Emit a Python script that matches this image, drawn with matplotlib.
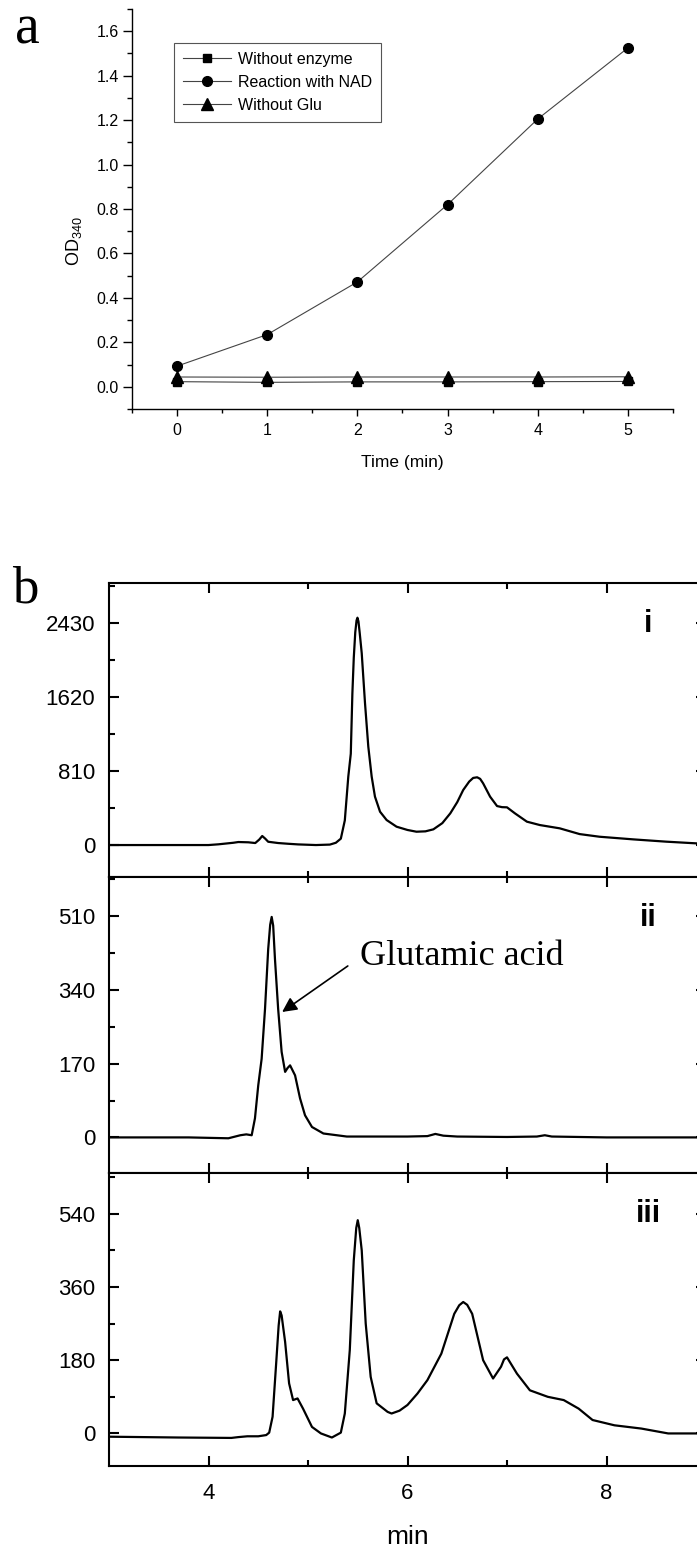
import matplotlib
matplotlib.use("Agg")
import matplotlib.pyplot as plt
from matplotlib.ticker import MultipleLocator, FixedLocator
from matplotlib.lines import Line2D

plt.rcParams["font.family"] = ["Liberation Sans", "DejaVu Sans"]
plt.rcParams["mathtext.default"] = "regular"

# ── panel a: OD340 vs time ───────────────────────────────────────────────────
time_min = [0, 1, 2, 3, 4, 5]
od_no_enzyme = [0.023, 0.020, 0.022, 0.022, 0.023, 0.024]
od_with_nad = [0.093, 0.235, 0.472, 0.820, 1.205, 1.525]
od_no_glu = [0.044, 0.043, 0.044, 0.044, 0.044, 0.045]
series_labels = ["Without enzyme", "Reaction with NAD", "Without Glu"]

# ── panel b: chromatograms (time in min, signal) ─────────────────────────────
t_i = [3.0, 4.0, 4.1, 4.25, 4.3, 4.4, 4.47, 4.51, 4.54, 4.57, 4.6, 4.7, 4.8,
       4.9, 5.08, 5.22, 5.28, 5.33, 5.37, 5.405, 5.43, 5.446, 5.46, 5.475,
       5.488, 5.497, 5.507, 5.52, 5.54, 5.573, 5.606, 5.64, 5.673, 5.724,
       5.79, 5.89, 6.0, 6.09, 6.18, 6.26, 6.35, 6.43, 6.5, 6.56, 6.62, 6.66,
       6.7, 6.73, 6.76, 6.83, 6.9, 6.95, 7.0, 7.08, 7.2, 7.33, 7.53, 7.73,
       7.93, 8.27, 8.6, 8.91, 9.0]
y_i = [0, 0, 8, 25, 33, 30, 22, 60, 99, 70, 36, 22, 14,
       7, 0, 5, 25, 70, 270, 750, 1000, 1660, 2050, 2330,
       2460, 2490, 2450, 2320, 2101, 1553, 1078, 749, 530, 365,
       274, 201, 165, 146, 150, 172, 240, 347, 470, 603, 695, 735,
       742, 725, 676, 530, 427, 415, 413, 347, 256, 219, 183, 120,
       91, 62, 37, 18, 15]

t_ii = [3.0, 3.8, 4.0, 4.2, 4.32, 4.38, 4.434, 4.467, 4.5, 4.534, 4.568, 4.60,
        4.62, 4.635, 4.65, 4.668, 4.70, 4.735, 4.77, 4.795, 4.82, 4.87, 4.92,
        4.97, 5.04, 5.155, 5.39, 6.0, 6.2, 6.28, 6.36, 6.5, 7.0, 7.3, 7.38,
        7.45, 8.0, 9.0]
y_ii = [0, 0, -1, -2, 5, 7, 5, 44, 120, 181, 296, 434,
        490, 508, 488, 411, 296, 197, 151, 160, 166, 143, 90,
        51, 24, 9, 2, 2, 3, 8, 4, 2, 1, 2, 5,
        2, 0, 0]

t_iii = [3.0, 3.7, 4.23, 4.3, 4.39, 4.5, 4.58, 4.61, 4.644, 4.68, 4.705, 4.72,
         4.735, 4.75, 4.77, 4.81, 4.85, 4.895, 4.95, 5.04, 5.13, 5.24, 5.33,
         5.37, 5.42, 5.46, 5.485, 5.50, 5.515, 5.54, 5.58, 5.63, 5.69, 5.8,
         5.84, 5.92, 6.0, 6.1, 6.2, 6.34, 6.47, 6.52, 6.56, 6.6, 6.65, 6.76,
         6.86, 6.94, 6.97, 7.0, 7.1, 7.23, 7.41, 7.57, 7.72, 7.86, 8.08, 8.35,
         8.62, 9.0]
y_iii = [-8, -10, -11, -9, -7, -7, -4, 2, 41, 172, 265, 300,
         290, 262, 225, 123, 82, 86, 61, 16, 0, -10, 2,
         49, 205, 425, 505, 524, 505, 450, 270, 139, 74, 53,
         49, 56, 70, 98, 131, 196, 294, 315, 323, 316, 294, 180,
         135, 164, 182, 187, 147, 106, 90, 82, 61, 33, 20, 12,
         0, 0]

panels = [("i", t_i, y_i, (-350, 2870), [0, 810, 1620, 2430], 405),
          ("ii", t_ii, y_ii, (-82, 600), [0, 170, 340, 510], 85),
          ("iii", t_iii, y_iii, (-80, 640), [0, 180, 360, 540], 90)]

W, H = 697, 1546
fig = plt.figure(figsize=(W / 100, H / 100), dpi=100)
fig.patch.set_facecolor("white")

# ── panel a ──────────────────────────────────────────────────────────────────
axa = fig.add_axes([132 / W, 1 - 409 / H, (673 - 132) / W, (409 - 9) / H])
line_kw = dict(color="#444444", linewidth=0.8, markerfacecolor="black",
               markeredgecolor="black")
axa.plot(time_min, od_no_enzyme, marker="s", markersize=5.5, **line_kw)
axa.plot(time_min, od_with_nad, marker="o", markersize=7, **line_kw)
axa.plot(time_min, od_no_glu, marker="^", markersize=8, **line_kw)
axa.set_xlim(-0.5, 5.5)
axa.set_ylim(-0.1, 1.7)
axa.xaxis.set_major_locator(FixedLocator(time_min))
axa.xaxis.set_minor_locator(MultipleLocator(0.5))
axa.yaxis.set_major_locator(FixedLocator([0, 0.2, 0.4, 0.6, 0.8, 1.0, 1.2, 1.4, 1.6]))
axa.yaxis.set_minor_locator(MultipleLocator(0.1))
axa.set_yticklabels(["0.0", "0.2", "0.4", "0.6", "0.8", "1.0", "1.2", "1.4", "1.6"])
for s in ["top", "right"]:
    axa.spines[s].set_visible(False)
for s in ["left", "bottom"]:
    axa.spines[s].set_linewidth(1.0)
axa.tick_params(axis="y", which="major", direction="out", length=6.5, width=1.0,
                pad=3, labelsize=11.5)
axa.tick_params(axis="y", which="minor", direction="out", length=3.5, width=1.0)
axa.tick_params(axis="x", which="major", direction="out", length=5, width=1.0,
                pad=5, labelsize=11.5)
axa.tick_params(axis="x", which="minor", direction="out", length=3, width=1.0)
axa.set_xlabel("Time (min)", fontsize=12.5, labelpad=12)
axa.set_ylabel("OD$_{340}$", fontsize=13)
axa.yaxis.set_label_coords((84 - 132) / 541, 0.42)

handles = [Line2D([], [], marker=m, markersize=ms, **line_kw)
           for m, ms in [("s", 5.5), ("o", 7), ("^", 8)]]
leg = axa.legend(handles, series_labels, loc="upper left",
                 bbox_to_anchor=((174 - 132) / 541, 1 - (43 - 9) / 400),
                 borderaxespad=0, fancybox=False, framealpha=1,
                 edgecolor="#555555", fontsize=11.5, handlelength=3.0,
                 handletextpad=0.45, labelspacing=0.5, borderpad=0.55)
leg.get_frame().set_linewidth(0.8)

fig.text(15 / W, 1 - 43 / H, "a", fontsize=40, family="Liberation Serif",
         va="baseline", ha="left")
fig.text(12 / W, 1 - 602 / H, "b", fontsize=38, family="Liberation Serif",
         va="baseline", ha="left")

# ── panel b ──────────────────────────────────────────────────────────────────
bounds = [(583, 877), (877, 1173), (1173, 1466)]
left_px, right_px = 109, 706
axes_b = []
for (tag, t, y, ylim, yt, ymin), (top, bot) in zip(panels, bounds):
    ax = fig.add_axes([left_px / W, 1 - bot / H, (right_px - left_px) / W,
                       (bot - top) / H])
    ax.plot(t, y, color="black", linewidth=1.6, solid_joinstyle="round")
    ax.set_xlim(3.0, 9.0)
    ax.set_ylim(*ylim)
    ax.xaxis.set_major_locator(FixedLocator([4, 6, 8]))
    ax.xaxis.set_minor_locator(FixedLocator([5, 7]))
    ax.yaxis.set_major_locator(FixedLocator(yt))
    ax.yaxis.set_minor_locator(MultipleLocator(ymin))
    for s in ax.spines.values():
        s.set_linewidth(1.5)
    ax.tick_params(which="both", direction="in", top=True, right=True, width=1.5)
    ax.tick_params(which="major", length=7.5, labelsize=16, pad=10)
    ax.tick_params(which="minor", length=4.5)
    ax.tick_params(axis="x", labelbottom=False)
    ax.text(0.903, 0.86, tag, transform=ax.transAxes, fontsize=22,
            fontweight="bold", ha="center", va="center")
    axes_b.append(ax)

axes_b[-1].tick_params(axis="x", labelbottom=True, pad=12)
axes_b[-1].set_xlabel("min", fontsize=19, labelpad=15)

axes_b[1].text(5.52, 416, "Glutamic acid", fontsize=26,
               family="Liberation Serif", va="center", ha="left")
axes_b[1].annotate("", xy=(4.74, 289), xytext=(5.40, 395),
                   arrowprops=dict(arrowstyle="-|>", color="black", lw=1.2,
                                   mutation_scale=22, shrinkA=0, shrinkB=0))

fig.savefig("out.png", dpi=100, facecolor="white")
